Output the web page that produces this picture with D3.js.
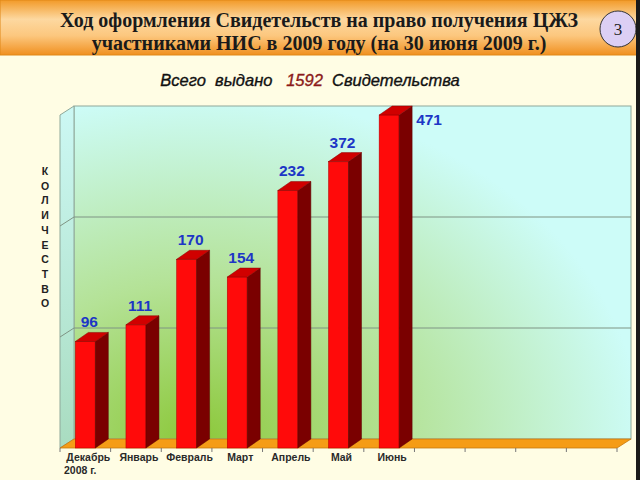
<!DOCTYPE html>
<html>
<head>
<meta charset="utf-8">
<script src="https://cdn.jsdelivr.net/npm/d3@7"></script>
<style>
  html, body { margin: 0; padding: 0; background: #fffde4; }
  svg { display: block; }
</style>
</head>
<body>
<script>
// data
const months = ['Декабрь', 'Январь', 'Февраль', 'Март', 'Апрель', 'Май', 'Июнь'];
const issued = [96, 111, 170, 154, 232, 372, 471];          // labels on the bars
const barLevel = [96, 111, 170, 154, 232, 258, 300];        // bar heights as drawn on the axis
const yTicks = [0, 100, 200, 300];
const slotCount = 11;                                        // category slots on the floor (4 empty)
const yLetters = 'КОЛИЧЕСТВО'.split('');

const W = 640, H = 480;
const depth = { dx: 14, dy: 9 };

const svg = d3.select('body').append('svg')
    .attr('width', W)
    .attr('height', H);

const defs = svg.append('defs');

const banner = defs.append('linearGradient').attr('id', 'banner')
    .attr('x1', 0).attr('y1', 0).attr('x2', 0).attr('y2', 1);
banner.append('stop').attr('offset', '0%').attr('stop-color', '#f29a28');
banner.append('stop').attr('offset', '35%').attr('stop-color', '#fdd8a0');
banner.append('stop').attr('offset', '65%').attr('stop-color', '#fcc77e');
banner.append('stop').attr('offset', '100%').attr('stop-color', '#f09020');

const wall = defs.append('radialGradient').attr('id', 'wall')
    .attr('cx', 0.22).attr('cy', 1).attr('r', 0.8)
    .attr('gradientTransform', 'translate(0.22,1) scale(1,1.3) translate(-0.22,-1)');
wall.append('stop').attr('offset', '0%').attr('stop-color', '#8cc83a');
wall.append('stop').attr('offset', '45%').attr('stop-color', '#b4e296');
wall.append('stop').attr('offset', '100%').attr('stop-color', '#cdfcf8');

const side = defs.append('linearGradient').attr('id', 'side')
    .attr('x1', 0).attr('y1', 0).attr('x2', 0).attr('y2', 1);
side.append('stop').attr('offset', '0%').attr('stop-color', '#ccf8f4');
side.append('stop').attr('offset', '100%').attr('stop-color', '#a9dcc0');

// title banner
svg.append('rect')
    .attr('x', 0).attr('y', 0).attr('width', 637).attr('height', 55)
    .attr('fill', 'url(#banner)')
    .attr('stroke', '#e08818').attr('stroke-width', 1);

const title = svg.append('text')
    .attr('text-anchor', 'middle')
    .attr('font-family', '"Liberation Serif", "Times New Roman", serif')
    .attr('font-weight', 'bold')
    .attr('font-size', 20)
    .attr('fill', '#1a1a1a');
title.append('tspan').attr('x', 319).attr('y', 27)
    .text('Ход  оформления  Свидетельств на право получения ЦЖЗ');
title.append('tspan').attr('x', 319).attr('y', 50)
    .text('участниками НИС в 2009 году (на 30 июня 2009 г.)');

svg.append('ellipse')
    .attr('cx', 618).attr('cy', 29).attr('rx', 18).attr('ry', 18)
    .attr('fill', '#dccff4').attr('stroke', '#333').attr('stroke-width', 1);
svg.append('text')
    .attr('x', 618).attr('y', 35)
    .attr('text-anchor', 'middle')
    .attr('font-family', '"Liberation Serif", serif')
    .attr('font-size', 17)
    .attr('fill', '#222')
    .text('3');

// subtitle
const sub = svg.append('text')
    .attr('x', 310).attr('y', 86)
    .attr('text-anchor', 'middle')
    .attr('font-family', '"Liberation Sans", Arial, sans-serif')
    .attr('font-style', 'italic')
    .attr('font-size', 16.5)
    .attr('fill', '#111')
    .attr('stroke', '#111').attr('stroke-width', 0.35)
    .attr('xml:space', 'preserve');
sub.append('tspan').text('Всего  выдано   ');
sub.append('tspan').attr('fill', '#8b1a1a').attr('stroke', '#8b1a1a').text('1592');
sub.append('tspan').text('  Свидетельства');

// scales (front plane); back plane is shifted by depth
const x = d3.scaleBand()
    .domain(d3.range(slotCount))
    .range([60, 617])
    .paddingInner(0)
    .paddingOuter(0);

const y = d3.scaleLinear()
    .domain([0, 300])
    .range([448, 115]);

const x0 = x.range()[0], x1 = x.range()[1];
const yb = v => y(v) - depth.dy;

const plot = svg.append('g');

// back wall
plot.append('rect')
    .attr('x', x0 + depth.dx).attr('y', yb(300))
    .attr('width', x1 - x0).attr('height', y(0) - y(300))
    .attr('fill', 'url(#wall)')
    .attr('stroke', '#8fa89a').attr('stroke-width', 1);

// side wall
plot.append('polygon')
    .attr('points', [[x0, y(300)], [x0 + depth.dx, yb(300)], [x0 + depth.dx, yb(0)], [x0, y(0)]].join(' '))
    .attr('fill', 'url(#side)')
    .attr('stroke', '#8fa89a').attr('stroke-width', 1);

// gridlines
const gridTicks = yTicks.filter(t => t > 0 && t < 300);
plot.selectAll('.grid')
    .data(gridTicks)
    .enter().append('line')
    .attr('x1', x0 + depth.dx).attr('x2', x1 + depth.dx)
    .attr('y1', d => yb(d)).attr('y2', d => yb(d))
    .attr('stroke', '#7f9484').attr('stroke-width', 1);
plot.selectAll('.gridside')
    .data(gridTicks)
    .enter().append('line')
    .attr('x1', x0).attr('x2', x0 + depth.dx)
    .attr('y1', d => y(d)).attr('y2', d => yb(d))
    .attr('stroke', '#7f9484').attr('stroke-width', 1);

// floor
plot.append('polygon')
    .attr('points', [[x0, y(0)], [x0 + depth.dx, yb(0)], [x1 + depth.dx, yb(0)], [x1, y(0)]].join(' '))
    .attr('fill', '#f59c16')
    .attr('stroke', '#c57a10').attr('stroke-width', 0.8);

// category ticks
plot.selectAll('.tick')
    .data(d3.range(slotCount + 1))
    .enter().append('line')
    .attr('x1', d => x0 + d * x.bandwidth()).attr('x2', d => x0 + d * x.bandwidth())
    .attr('y1', y(0)).attr('y2', y(0) + 4)
    .attr('stroke', '#777').attr('stroke-width', 1);

// bars
const barW = 20, bdx = 13, bdy = 9;
const barX = i => x(i) + (x.bandwidth() - barW) / 2;

const bars = plot.selectAll('.bar')
    .data(barLevel)
    .enter().append('g');

bars.append('rect')
    .attr('x', (d, i) => barX(i))
    .attr('y', d => y(d))
    .attr('width', barW)
    .attr('height', d => y(0) - y(d))
    .attr('fill', '#ff0a0a')
    .attr('stroke', '#b00000').attr('stroke-width', 0.5);

bars.append('polygon')
    .attr('points', (d, i) => {
        const l = barX(i) + barW;
        return [[l, y(d)], [l + bdx, y(d) - bdy], [l + bdx, y(0) - bdy], [l, y(0)]].join(' ');
    })
    .attr('fill', '#7a0000')
    .attr('stroke', '#5a0000').attr('stroke-width', 0.5);

bars.append('polygon')
    .attr('points', (d, i) => {
        const l = barX(i);
        return [[l, y(d)], [l + bdx, y(d) - bdy], [l + barW + bdx, y(d) - bdy], [l + barW, y(d)]].join(' ');
    })
    .attr('fill', '#d00000')
    .attr('stroke', '#8a0000').attr('stroke-width', 0.5);

// value labels
plot.selectAll('.val')
    .data(issued)
    .enter().append('text')
    .attr('x', (d, i) => barLevel[i] >= 290 ? barX(i) + barW + bdx + 4 : barX(i) + barW / 2 + 4)
    .attr('y', (d, i) => barLevel[i] >= 290 ? y(barLevel[i]) + 10 : y(barLevel[i]) - bdy - 5)
    .attr('text-anchor', (d, i) => barLevel[i] >= 290 ? 'start' : 'middle')
    .attr('font-family', '"Liberation Sans", Arial, sans-serif')
    .attr('font-weight', 'bold')
    .attr('font-size', 15.5)
    .attr('fill', '#1d36c6')
    .text(d => d);

// category labels
plot.selectAll('.cat')
    .data(months)
    .enter().append('text')
    .attr('x', (d, i) => x(i) + x.bandwidth() / 2 + 3)
    .attr('y', 461)
    .attr('text-anchor', 'middle')
    .attr('font-family', '"Liberation Sans", Arial, sans-serif')
    .attr('font-weight', 'bold')
    .attr('font-size', 10.5)
    .attr('fill', '#2a2a2a')
    .text(d => d);

plot.append('text')
    .attr('x', 64).attr('y', 474)
    .attr('font-family', '"Liberation Sans", Arial, sans-serif')
    .attr('font-weight', 'bold')
    .attr('font-size', 10.5)
    .attr('fill', '#2a2a2a')
    .text('2008 г.');

// vertical axis title, one letter per line
svg.append('g').selectAll('text')
    .data(yLetters)
    .enter().append('text')
    .attr('x', 45)
    .attr('y', (d, i) => 175 + i * 14.7)
    .attr('text-anchor', 'middle')
    .attr('font-family', '"Liberation Sans", Arial, sans-serif')
    .attr('font-weight', 'bold')
    .attr('font-size', 10.5)
    .attr('fill', '#222')
    .text(d => d);

// dark right edge of the slide
svg.append('rect')
    .attr('x', 636).attr('y', 0).attr('width', 4).attr('height', H)
    .attr('fill', '#1a1a1a');
</script>
</body>
</html>
